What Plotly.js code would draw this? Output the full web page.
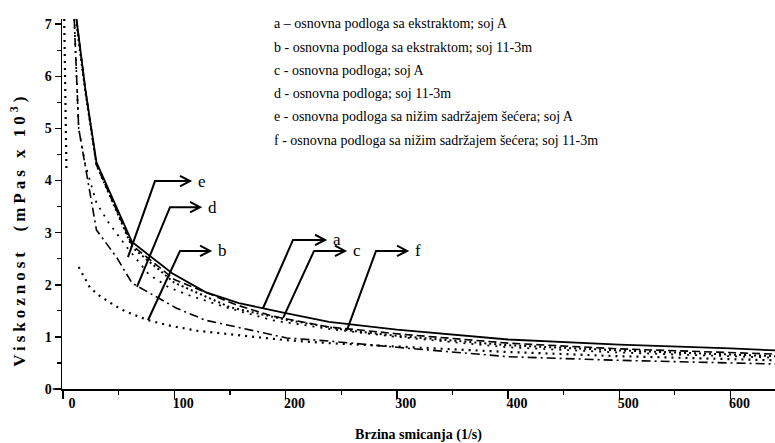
<!DOCTYPE html>
<html>
<head>
<meta charset="utf-8">
<script src="https://cdn.plot.ly/plotly-3.0.1.min.js"></script>
<style>
html,body{margin:0;padding:0;background:#fff;}
#chart{width:775px;height:443px;}
text[data-unformatted^="Viskoznost"]{letter-spacing:4px;}
</style>
</head>
<body>
<div id="chart"></div>
<script>
// ---- data ----
const shearA = [12, 20, 30, 62, 98, 128, 158, 199, 239, 300, 400, 500, 600, 640];
const viscA  = [7.1, 5.75, 4.35, 2.82, 2.22, 1.86, 1.65, 1.46, 1.29, 1.14, 0.95, 0.85, 0.78, 0.74];

const shearB = [1, 3, null, 14, 24, 32, 45, 55, 75, 95, 120, 146, 199, 239, 300, 400, 500, 640];
const viscB  = [7.1, 4.2, null, 2.34, 1.95, 1.8, 1.62, 1.5, 1.33, 1.22, 1.12, 1.06, 0.94, 0.88, 0.82, 0.71, 0.63, 0.55];

const shearC = [12, 20, 30, 62, 100, 155, 188, 239, 300, 400, 500, 600, 640];
const viscC  = [7.1, 5.75, 4.3, 2.76, 2.1, 1.62, 1.4, 1.19, 1.06, 0.88, 0.77, 0.7, 0.67];

const shearD = [10, 14, 30, 48, 62, 84, 102, 128, 188, 201, 239, 300, 400, 500, 640];
const viscD  = [7.1, 5.0, 3.05, 2.53, 2.03, 1.77, 1.55, 1.32, 1.04, 0.98, 0.92, 0.8, 0.62, 0.55, 0.48];

const shearE = [10, 14, 20, 30, 41, 57, 77, 95, 113, 146, 188, 240, 300, 400, 500, 640];
const viscE  = [7.1, 5.0, 4.3, 3.57, 3.19, 2.73, 2.2, 1.95, 1.8, 1.57, 1.32, 1.15, 1.0, 0.8, 0.7, 0.6];

const shearF = [12, 20, 30, 62, 100, 150, 200, 254, 300, 400, 500, 600, 640];
const viscF  = [7.0, 5.7, 4.3, 2.72, 2.04, 1.57, 1.33, 1.13, 1.02, 0.84, 0.74, 0.66, 0.63];

const xTickVals = [0, 100, 200, 300, 400, 500, 600];
const xTickText = ['0', '100', '200', '300', '400', '500', '600'];
const yTickVals = [0, 1, 2, 3, 4, 5, 6, 7];
const yTickText = ['0', '1', '2', '3', '4', '5', '6', '7'];

const legendLines = [
  'a – osnovna podloga sa ekstraktom; soj A',
  'b - osnovna podloga sa ekstraktom; soj 11-3m',
  'c - osnovna podloga; soj A',
  'd - osnovna podloga; soj 11-3m',
  'e - osnovna podloga sa nižim sadržajem šećera; soj A',
  'f - osnovna podloga sa nižim sadržajem šećera; soj 11-3m'
];

// callouts: letter, start on curve, elbow, arrow tip
const calloutLetters = ['e', 'd', 'b', 'a', 'c', 'f'];
const calloutStartX = [58.3, 66.4, 76.3, 179.7, 197.7, 255.2];
const calloutStartY = [2.53, 1.96, 1.32, 1.55, 1.36, 1.13];
const calloutElbowX = [82.6, 96.1, 105.1, 206.7, 225.6, 281.3];
const calloutElbowY = [3.99, 3.49, 2.65, 2.86, 2.65, 2.65];
const calloutTipX   = [114.1, 123.1, 132.1, 235.5, 253.4, 309.2];

// ---- drawing ----
const K = 'black';
function tr(x, y, dash, w) {
  return {x: x, y: y, type: 'scatter', mode: 'lines', connectgaps: false,
          line: {color: K, width: w, dash: dash}, hoverinfo: 'skip', showlegend: false};
}
const traces = [
  tr(shearB, viscB, '2px,5px', 2.2),
  tr(shearD, viscD, '9px,4px,2px,4px', 1.6),
  tr(shearE, viscE, '2px,6px', 1.8),
  tr(shearF, viscF, '2px,3px', 2.0),
  tr(shearC, viscC, '8px,4px', 1.6),
  tr(shearA, viscA, 'solid', 1.8)
];

const serif = 'Liberation Serif';
const annotations = [];
const shapes = [];

legendLines.forEach(function (t, i) {
  annotations.push({xref: 'paper', yref: 'paper', x: 0.2945, y: (389 - (24 + 23.2 * i)) / 370,
    xanchor: 'left', yanchor: 'middle', text: t, showarrow: false,
    font: {family: serif, size: 14, color: K}});
});

// arrow head size in data units (about 10 px long, 5 px half-height)
const headDX = 9, headDY = 0.1;
calloutLetters.forEach(function (L, i) {
  const sx = calloutStartX[i], sy = calloutStartY[i];
  const ex = calloutElbowX[i], ey = calloutElbowY[i];
  const tx = calloutTipX[i];
  shapes.push({type: 'path', xref: 'x', yref: 'y',
    path: 'M' + sx + ',' + sy + ' L' + ex + ',' + ey + ' L' + tx + ',' + ey +
          ' M' + (tx - headDX) + ',' + (ey + headDY) + ' L' + tx + ',' + ey +
          ' L' + (tx - headDX) + ',' + (ey - headDY),
    line: {color: K, width: 2}});
  annotations.push({xref: 'x', yref: 'y', x: tx + 5, y: ey,
    xanchor: 'left', yanchor: 'middle', text: L, showarrow: false,
    font: {family: serif, size: 17, color: K}});
});

annotations.push({xref: 'paper', yref: 'paper', x: -0.062, y: 0.43,
  xanchor: 'center', yanchor: 'middle', textangle: -90,
  text: 'Viskoznost  (mPas x 10<sup>3</sup>)', showarrow: false,
  font: {family: serif, size: 17, color: K, weight: 'bold'}});

// x axis line extends a little to the left of the y axis
shapes.push({type: 'line', xref: 'paper', yref: 'paper', x0: -0.013, x1: 0, y0: 0, y1: 0,
  line: {color: K, width: 1.5}});

const layout = {
  width: 775, height: 443,
  margin: {l: 62, r: 0, t: 19, b: 54},
  paper_bgcolor: 'white', plot_bgcolor: 'white',
  showlegend: false,
  font: {family: serif, color: K},
  xaxis: {
    range: [-1, 640], showgrid: false, zeroline: false,
    showline: true, linecolor: K, linewidth: 1.5,
    ticks: 'outside', ticklen: 8, tickwidth: 1.5, tickcolor: K,
    tickvals: xTickVals, ticktext: xTickText, ticklabelshift: 9, ticklabelstandoff: -7,
    tickfont: {family: serif, size: 14, color: K, weight: 'bold'},
    minor: {dtick: 50, tick0: 0, ticks: 'outside', ticklen: 4, tickwidth: 1.2, tickcolor: K, showgrid: false},
    title: {text: 'Brzina smicanja (1/s)', standoff: 25,
      font: {family: serif, size: 14, color: K, weight: 'bold'}}
  },
  yaxis: {
    range: [0, 7.1], showgrid: false, zeroline: false,
    showline: true, linecolor: K, linewidth: 1.5,
    ticks: 'outside', ticklen: 6, tickwidth: 1.5, tickcolor: K,
    tickvals: yTickVals, ticktext: yTickText,
    tickfont: {family: serif, size: 14, color: K, weight: 'bold'},
    minor: {dtick: 0.5, tick0: 0, ticks: 'outside', ticklen: 4, tickwidth: 1.2, tickcolor: K, showgrid: false}
  },
  annotations: annotations,
  shapes: shapes
};

Plotly.newPlot('chart', traces, layout, {displayModeBar: false, staticPlot: true});
</script>
</body>
</html>
